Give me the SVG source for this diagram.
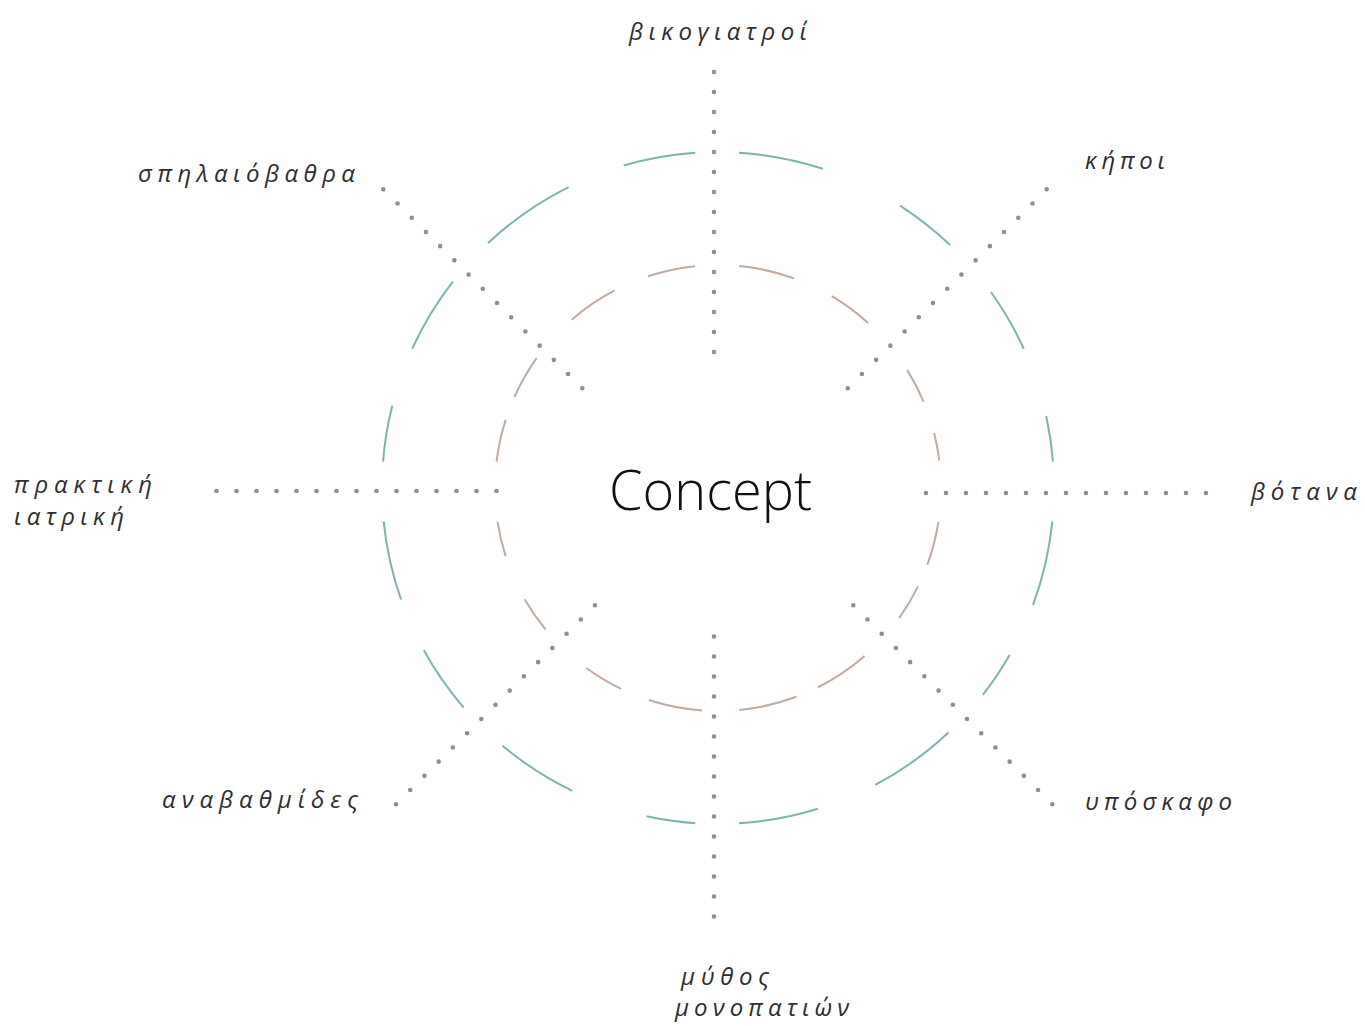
<svg xmlns="http://www.w3.org/2000/svg" width="1365" height="1026" viewBox="0 0 1365 1026">
<style>
.bg{fill:#ffffff}
.ring{fill:none;stroke-width:2;stroke-linecap:butt}
.outer{stroke:#7fb3b1}
.inner{stroke:#c3aa9f}
.spoke{stroke:#8e8e8e;stroke-width:4.6;stroke-linecap:round;fill:none}
.lbl{font-family:"Open Sans","Noto Sans","DejaVu Sans",sans-serif;font-style:italic;font-size:24px;fill:#2e2e2e}
.title{font-family:"Open Sans","Noto Sans",sans-serif;font-weight:300;font-size:56px;fill:#111111}
</style>
<rect class="bg" x="0" y="0" width="1365" height="1026"/>
<g id="rings">
<circle class="ring outer" cx="718" cy="488" r="336" pathLength="360" stroke-dasharray="0 5.7 14.7 9.4 8.2 8.7 15.4 10.6 13.7 7.5 8.4 13.4 14.2 9.3 11.9 9.5 13.7 10.2 9.7 10.3 13.4 8.9 16.8 10.1 12.4 7.5 14.6 14.6 10.9 10.6 11.2 12.1 7.9 4.5"/>
<circle class="ring inner" cx="718" cy="488" r="223" pathLength="360" stroke-dasharray="0 8.7 11.5 6.0 9.5 13.2 14.4 6.1 15.1 9.6 14.0 7.7 10.4 14.4 9.5 12.1 9.1 15.5 11.0 6.3 11.5 13.4 13.4 9.3 12.4 11.4 14.5 10.7 11.6 15.7 9.2 8.5 7.2 7.1"/>
</g>
<g id="connectors">
<line class="spoke" x1="714" y1="72" x2="714" y2="352.5" stroke-dasharray="0 20"/>
<line class="spoke" x1="714" y1="636.5" x2="714" y2="917" stroke-dasharray="0 20"/>
<line class="spoke" x1="216.5" y1="491" x2="497" y2="491" stroke-dasharray="0 20"/>
<line class="spoke" x1="926" y1="493" x2="1206.5" y2="493" stroke-dasharray="0 20"/>
<line class="spoke" x1="383.3" y1="189.3" x2="582.6" y2="388.6" stroke-dasharray="0 20.1"/>
<line class="spoke" x1="1046.7" y1="189.3" x2="847.4" y2="388.6" stroke-dasharray="0 20.1"/>
<line class="spoke" x1="595" y1="605.3" x2="395.7" y2="804.6" stroke-dasharray="0 20.1"/>
<line class="spoke" x1="853.3" y1="605.3" x2="1052.6" y2="804.6" stroke-dasharray="0 20.1"/>
</g>
<g id="concept"><text class="title" x="609" y="510" textLength="203" lengthAdjust="spacingAndGlyphs">Concept</text></g>
<g id="n-bikogiatroi"><text class="lbl" x="629" y="40" textLength="178">βικογιατροί</text></g>
<g id="n-kipoi"><text class="lbl" x="1085" y="169" textLength="80">κήποι</text></g>
<g id="n-spilaiovathra"><text class="lbl" x="138" y="182" textLength="217">σπηλαιόβαθρα</text></g>
<g id="n-praktiki"><text class="lbl" x="14" y="493" textLength="138">πρακτική</text><text class="lbl" x="14" y="525" textLength="110">ιατρική</text></g>
<g id="n-votana"><text class="lbl" x="1251" y="500" textLength="106">βότανα</text></g>
<g id="n-anavathmides"><text class="lbl" x="162" y="808" textLength="196">αναβαθμίδες</text></g>
<g id="n-yposkafo"><text class="lbl" x="1085" y="810" textLength="147">υπόσκαφο</text></g>
<g id="n-mythos"><text class="lbl" x="681" y="985" textLength="88">μύθος</text><text class="lbl" x="675" y="1016" textLength="174">μονοπατιών</text></g>
</svg>
